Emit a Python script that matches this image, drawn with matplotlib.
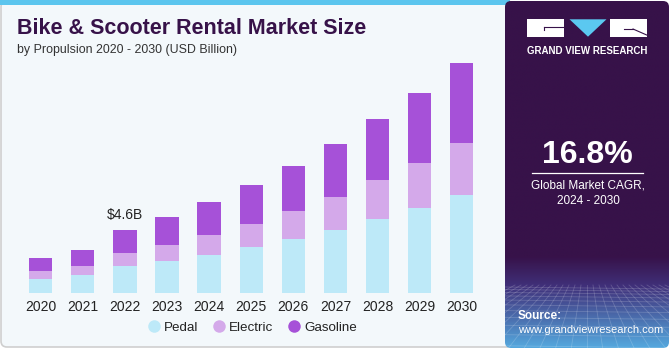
import numpy as np
import matplotlib
matplotlib.use("Agg")
import matplotlib.pyplot as plt
from matplotlib.patches import FancyBboxPatch, Rectangle, Polygon
from matplotlib.lines import Line2D

years = ["2020", "2021", "2022", "2023", "2024", "2025", "2026", "2027", "2028", "2029", "2030"]
pedal = [1.04, 1.31, 1.94, 2.35, 2.78, 3.32, 3.92, 4.60, 5.38, 6.20, 7.10]
electric = [0.54, 0.65, 0.99, 1.16, 1.43, 1.69, 2.01, 2.40, 2.81, 3.23, 3.78]
gasoline = [0.94, 1.14, 1.67, 2.01, 2.38, 2.81, 3.32, 3.83, 4.43, 5.13, 5.81]
series_names = ["Pedal", "Electric", "Gasoline"]
colors = ["#BDE9F8", "#D4A9EA", "#A651D8"]
annot_idx = 2
annot_text = "$4.6B"

W, H = 670, 350
fig = plt.figure(figsize=(W / 100, H / 100), dpi=100)
fig.patch.set_facecolor("white")

bg = fig.add_axes([0, 0, 1, 1])
bg.set_xlim(0, W)
bg.set_ylim(H, 0)
bg.axis("off")

FONT = "Liberation Sans"

# left panel
bg.add_patch(FancyBboxPatch((1, 1), 512, 346, boxstyle="round,pad=0,rounding_size=6",
                            facecolor="#F3F8FB", edgecolor="#CFCFCF", lw=1.2, zorder=0))
bg.add_patch(Rectangle((0, 0), 510, 4.7, facecolor="#5BC5EE", edgecolor="none", zorder=1))

# right panel with gradient
grad_h = 400
grad = np.zeros((grad_h, 1, 3))
top = np.array([0x37, 0x12, 0x49]) / 255
mid = np.array([0x40, 0x30, 0x7A]) / 255
bot = np.array([0x55, 0xA8, 0xDE]) / 255
ys = np.linspace(0, H, grad_h)
for i, y in enumerate(ys):
    if y < 258:
        c = top
    elif y < 288:
        t = (y - 258) / 30
        c = top * (1 - t) + mid * t
    else:
        t = (y - 288) / 62
        c = mid * (1 - t) + bot * t
    grad[i, 0] = c
rp = FancyBboxPatch((505, 1), 164, 347, boxstyle="round,pad=0,rounding_size=6",
                    facecolor="none", edgecolor="none", zorder=1)
bg.add_patch(rp)
im = bg.imshow(grad, extent=(505, 669, 348, 1), aspect="auto", zorder=1, interpolation="bilinear")
im.set_clip_path(rp)

# grid pattern in the bottom of right panel
for k in range(-12, 26):
    x0 = 587 + k * 6
    x1 = 587 + k * 16
    ln = Line2D([x0, x1], [285, 350], color="white", alpha=0.18, lw=0.6, zorder=2)
    ln.set_clip_path(rp)
    bg.add_line(ln)
yy = 287
step = 2.5
while yy < 350:
    ln = Line2D([505, 669], [yy, yy + 2], color="white", alpha=0.18, lw=0.6, zorder=2)
    ln.set_clip_path(rp)
    bg.add_line(ln)
    yy += step
    step *= 1.18

# logo
bg.add_patch(Rectangle((527, 19.3), 36.5, 17.4, facecolor="white", edgecolor="none", zorder=3))
bg.add_line(Line2D([544, 563], [26.5, 26.5], color="#371249", lw=0.8, zorder=4))
bg.add_line(Line2D([544, 544], [26.5, 30], color="#371249", lw=0.8, zorder=4))
bg.add_patch(Polygon([(569.5, 19.3), (606.5, 19.3), (588, 36.7)], closed=True,
                     facecolor="#5BC8F0", edgecolor="none", zorder=3))
bg.add_patch(Rectangle((610, 19.3), 36.7, 17.4, facecolor="white", edgecolor="none", zorder=3))
bg.add_line(Line2D([633, 646.7], [29, 35], color="#371249", lw=0.8, zorder=4))
bg.add_line(Line2D([624, 633], [29, 29], color="#371249", lw=0.8, zorder=4))
bg.text(587, 50.5, "GRAND VIEW RESEARCH", color="white", fontsize=7.0, fontweight="bold",
        family=FONT, ha="center", va="center", zorder=4)

# CAGR
bg.text(587.5, 155, "16.8%", color="white", fontsize=23, fontweight="bold",
        family=FONT, ha="center", va="center", zorder=4)
bg.add_line(Line2D([532, 643], [173.3, 173.3], color="white", lw=0.9, zorder=4))
bg.text(588, 186, "Global Market CAGR,", color="white", fontsize=8.5,
        family=FONT, ha="center", va="center", zorder=4)
bg.text(588, 201, "2024 - 2030", color="white", fontsize=8.5,
        family=FONT, ha="center", va="center", zorder=4)
bg.text(518, 316, "Source:", color="white", fontsize=8.5, fontweight="bold",
        family=FONT, ha="left", va="center", zorder=4)
bg.text(518, 330, "www.grandviewresearch.com", color="white", fontsize=8.0,
        family=FONT, ha="left", va="center", zorder=4)

# titles
bg.text(17, 28.5, "Bike & Scooter Rental Market Size", color="#371249", fontsize=15.5,
        fontweight="bold", family=FONT, ha="left", va="center", zorder=4)
bg.text(17, 49.5, "by Propulsion 2020 - 2030 (USD Billion)", color="#333333", fontsize=8.9,
        family=FONT, ha="left", va="center", zorder=4)

# chart axes
scale = 4.6 / 63.3  # value per pixel
spacing = 42.1
left_px = 40.7 - 0.5 * spacing
base_px = 293
top_px = 40
ax = fig.add_axes([left_px / W, (H - base_px) / H, 11 * spacing / W, (base_px - top_px) / H])
ax.set_xlim(-0.5, 10.5)
ax.set_ylim(0, (base_px - top_px) * scale)
ax.patch.set_alpha(0)
for s in ax.spines.values():
    s.set_visible(False)
ax.set_yticks([])

x = np.arange(len(years))
bw = 23.3 / spacing
bottom = np.zeros(len(years))
for vals, c, name in zip([pedal, electric, gasoline], colors, series_names):
    ax.bar(x, vals, bw, bottom=bottom, color=c, edgecolor="none", label=name, zorder=3)
    bottom = bottom + np.array(vals)

ax.set_xticks(x)
ax.set_xticklabels(years, fontsize=10, family=FONT, color="#222222")
ax.tick_params(axis="x", length=0, pad=5)

ax.text(x[annot_idx], bottom[annot_idx] + 14.5 * scale, annot_text, ha="center", va="center",
        fontsize=10, family=FONT, color="#222222")

handles = [Line2D([0], [0], marker="o", ls="none", markersize=9, markerfacecolor=c,
                  markeredgecolor="none") for c in colors]
fig.legend(handles, series_names, loc="center", bbox_to_anchor=(252 / W, 1 - 327.5 / H),
           ncol=3, frameon=False, prop={"family": FONT, "size": 9.6}, handletextpad=0.3,
           columnspacing=1.0, handlelength=1.0, labelcolor="#222222")

fig.savefig("out.png", dpi=100, facecolor="white")
